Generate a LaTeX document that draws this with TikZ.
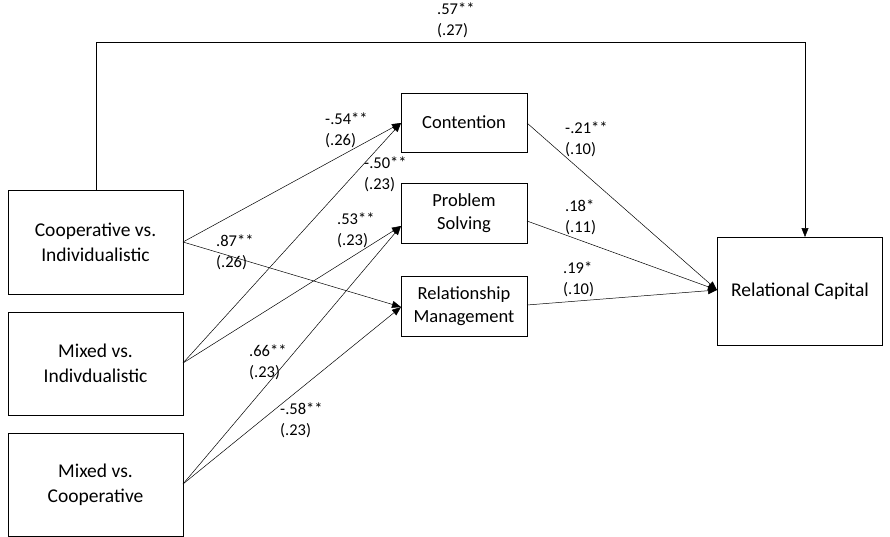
\documentclass[tikz,border=0pt]{standalone}
\usepackage{fontspec}
\setmainfont{Carlito}
\usetikzlibrary{arrows.meta}
\begin{document}
\begin{tikzpicture}[x=1pt,y=-1pt,
  box/.style={draw, line width=0.8pt, align=center, inner sep=0pt, font=\fontsize{19.5}{25}\selectfont},
  sbox/.style={box, minimum width=126pt, minimum height=60pt, font=\fontsize{18.5}{23}\selectfont},
  coef/.style={anchor=north west, align=left, inner sep=0pt, font=\fontsize{16.5}{21}\selectfont},
  arr/.style={line width=0.5pt, -{Triangle[length=9pt,width=7pt]}}]
\useasboundingbox (0,0) rectangle (890,537);
% boxes
\node[box, minimum width=175pt, minimum height=104pt] (ci) at (95.5,242.5) {Cooperative vs.\\Individualistic};
\node[box, minimum width=175pt, minimum height=103pt] (mi) at (95.5,363.5) {Mixed vs.\\Indivdualistic};
\node[box, minimum width=175pt, minimum height=103pt] (mc) at (95.5,484.5) {Mixed vs.\\Cooperative};
\node[sbox, minimum height=59pt] (con) at (464,122.5) {Contention};
\node[sbox] (ps) at (464,213) {Problem\\Solving};
\node[sbox] (rm) at (464,306) {Relationship\\Management};
\node[box, minimum width=165pt, minimum height=108pt] (rc) at (800,291) {Relational Capital};
% connection points
\coordinate (ciR) at (183,242);
\coordinate (miR) at (183,363);
\coordinate (mcR) at (183,484);
\coordinate (conL) at (401,123);
\coordinate (psL) at (401,226);
\coordinate (rmL) at (401,307);
\coordinate (conR) at (527,123);
\coordinate (psR) at (527,221);
\coordinate (rmR) at (527,305);
\coordinate (rcL) at (717,290);
\coordinate (ciT) at (96,190);
\coordinate (rcT) at (805,237);
\coordinate (t1) at (96,42);
\coordinate (t2) at (805,42);
% arrows
\draw[arr] (ciT) -- (t1) -- (t2) -- (rcT);
\draw[arr] (ciR) -- (conL);
\draw[arr] (ciR) -- (rmL);
\draw[arr] (miR) -- (conL);
\draw[arr] (miR) -- (psL);
\draw[arr] (mcR) -- (psL);
\draw[arr] (mcR) -- (rmL);
\draw[arr] (conR) -- (rcL);
\draw[arr] (psR) -- (rcL);
\draw[arr] (rmR) -- (rcL);
% coefficients
\node[coef] (c1) at (437,3) {.57**\\(.27)};
\node[coef] (c2) at (325,113) {-.54**\\(.26)};
\node[coef] (c3) at (364,157) {-.50**\\(.23)};
\node[coef] (c4) at (337,213) {.53**\\(.23)};
\node[coef] (c5) at (216,235) {.87**\\(.26)};
\node[coef] (c6) at (249,345) {.66**\\(.23)};
\node[coef] (c7) at (280,403) {-.58**\\(.23)};
\node[coef] (c8) at (565,122) {-.21**\\(.10)};
\node[coef] (c9) at (565,200) {.18*\\(.11)};
\node[coef] (c10) at (563,262) {.19*\\(.10)};
\end{tikzpicture}
\end{document}
